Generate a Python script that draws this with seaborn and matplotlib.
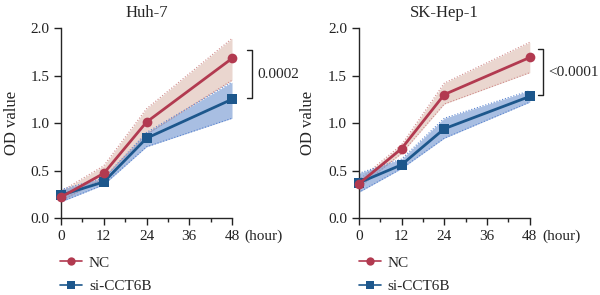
import numpy as np
import pandas as pd
import matplotlib
matplotlib.use("Agg")
import matplotlib.pyplot as plt
import seaborn as sns
from matplotlib.lines import Line2D

hours = [0, 12, 24, 48]
groups = ["NC", "si-CCT6B"]
panels = ["Huh-7", "SK-Hep-1"]
pvalues = ["0.0002", "<0.0001"]

huh7_nc = [0.22, 0.47, 1.01, 1.68]
huh7_nc_lo = [0.18, 0.42, 0.88, 1.45]
huh7_nc_hi = [0.28, 0.55, 1.15, 1.89]
huh7_si = [0.24, 0.38, 0.84, 1.25]
huh7_si_lo = [0.17, 0.35, 0.75, 1.05]
huh7_si_hi = [0.30, 0.42, 0.90, 1.43]

sk_nc = [0.36, 0.73, 1.30, 1.69]
sk_nc_lo = [0.32, 0.68, 1.20, 1.53]
sk_nc_hi = [0.40, 0.77, 1.42, 1.85]
sk_si = [0.37, 0.56, 0.94, 1.28]
sk_si_lo = [0.27, 0.52, 0.84, 1.22]
sk_si_hi = [0.47, 0.62, 1.05, 1.34]

line_col = {"NC": "#b23a50", "si-CCT6B": "#1d578c"}
band_col = {"NC": "#dcbcb0", "si-CCT6B": "#6f93cf"}
band_alpha = {"NC": 0.6, "si-CCT6B": 0.6}
edge_col = {"NC": "#d08a8a", "si-CCT6B": "#5a84d0"}
markers = {"NC": "o", "si-CCT6B": "s"}

sns.set_style("ticks")
plt.rcParams["font.family"] = ["Liberation Serif", "DejaVu Serif"]

fig = plt.figure(figsize=(6, 2.95), dpi=100)
ax1 = fig.add_axes([0.1017, 0.261, 0.285, 0.644])
ax2 = fig.add_axes([0.598, 0.261, 0.285, 0.644])

data = {
    "Huh-7": {"NC": (huh7_nc, huh7_nc_lo, huh7_nc_hi),
              "si-CCT6B": (huh7_si, huh7_si_lo, huh7_si_hi)},
    "SK-Hep-1": {"NC": (sk_nc, sk_nc_lo, sk_nc_hi),
                 "si-CCT6B": (sk_si, sk_si_lo, sk_si_hi)},
}
bracket_x = {"Huh-7": 1.117, "SK-Hep-1": 1.076}

for ax, panel, pv in zip([ax1, ax2], panels, pvalues):
    rows = []
    for g in groups:
        mean, lo, hi = data[panel][g]
        ax.fill_between(hours, lo, hi, color=band_col[g], alpha=band_alpha[g],
                        lw=0, zorder=1)
        ax.plot(hours, lo, ls=":", lw=0.8, color=edge_col[g], zorder=1)
        ax.plot(hours, hi, ls=":", lw=0.8, color=edge_col[g], zorder=1)
        for h, v in zip(hours, mean):
            rows.append({"hour": h, "OD": v, "group": g})
    df = pd.DataFrame(rows)
    sns.lineplot(data=df, x="hour", y="OD", hue="group", style="group",
                 hue_order=groups[::-1], palette=line_col, markers=markers,
                 dashes=False, markersize=7, markeredgewidth=0, lw=2,
                 ax=ax, legend=False, zorder=3, clip_on=False)
    ax.set_xlim(0, 48)
    ax.set_ylim(0, 2.0)
    ax.set_xticks([0, 12, 24, 36, 48])
    ax.set_xticks([6, 18, 30, 42], minor=True)
    ax.set_yticks([0, 0.5, 1.0, 1.5, 2.0])
    ax.set_yticklabels(["0.0", "0.5", "1.0", "1.5", "2.0"])
    ax.tick_params(labelsize=11, length=5, width=1, colors="#222222")
    ax.tick_params(which="minor", length=3, width=1)
    ax.set_xlabel("")
    ax.set_ylabel("OD value", fontsize=12)
    ax.set_title(panel, fontsize=12, pad=8)
    sns.despine(ax=ax)
    for s in ["left", "bottom"]:
        ax.spines[s].set_linewidth(1)
    ax.annotate("(hour)", xy=(1, 0), xycoords="axes fraction",
                xytext=(9, -8.5), textcoords="offset points",
                ha="left", va="top", fontsize=11)
    # significance bracket
    top = data[panel]["NC"][0][-1] + 0.09
    bot = data[panel]["si-CCT6B"][0][-1] + 0.01
    xb = bracket_x[panel]
    ax.plot([xb - 0.03, xb, xb, xb - 0.03], [top, top, bot, bot],
            transform=ax.get_yaxis_transform(), color="#222222", lw=1,
            clip_on=False)
    ax.text(xb + 0.03, (top + bot) / 2, pv, transform=ax.get_yaxis_transform(),
            ha="left", va="center", fontsize=11)

ax1.yaxis.set_label_coords(-0.24, 0.5)
ax2.yaxis.set_label_coords(-0.25, 0.5)

handles = [Line2D([], [], color=line_col[g], marker=markers[g], lw=1.2,
                  markersize=6, markeredgewidth=0) for g in groups]
for x0 in [0.082, 0.58]:
    fig.legend(handles, groups, loc="lower left", bbox_to_anchor=(x0, -0.03),
               frameon=False, fontsize=11, handlelength=1.45, borderpad=0.2,
               handletextpad=0.45, labelspacing=0.65)

fig.savefig("out.png", dpi=100)
